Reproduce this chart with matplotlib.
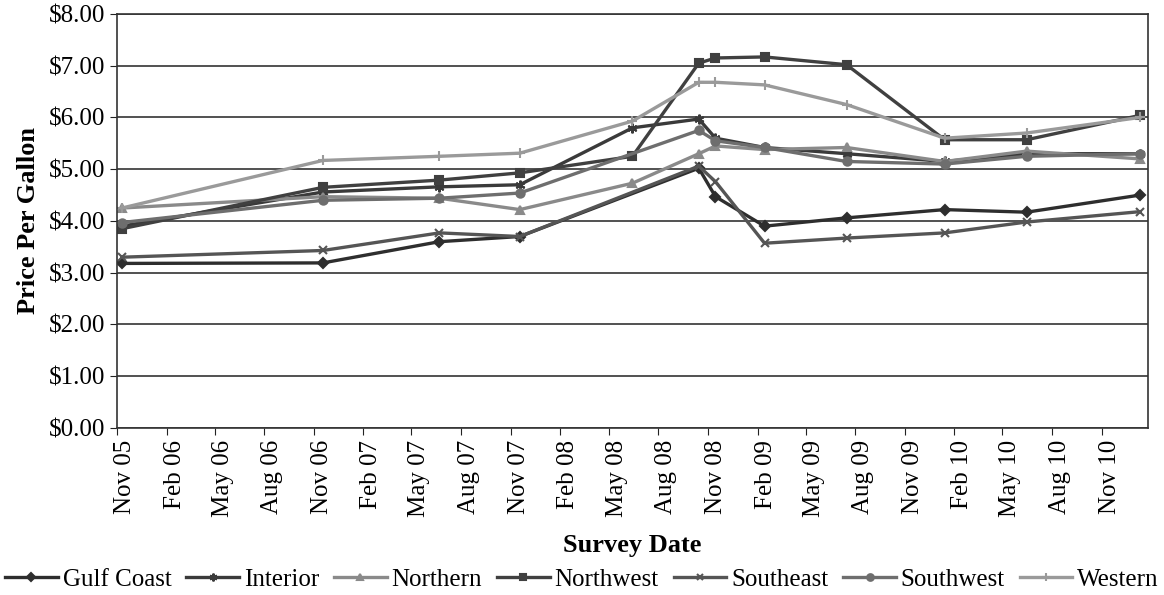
import numpy as np
import pandas as pd
import matplotlib
matplotlib.use('Agg')
import matplotlib.pyplot as plt
import matplotlib.dates as mdates
import matplotlib.transforms as mtrans

plt.rcParams['font.family'] = ['Liberation Serif', 'DejaVu Serif']

# survey dates
dates = pd.to_datetime(['2005-11-10', '2006-11-18', '2007-06-22', '2007-11-18',
                        '2008-06-14', '2008-10-15', '2008-11-15', '2009-02-14',
                        '2009-07-16', '2010-01-14', '2010-06-15', '2011-01-11'])

nan = np.nan
gulf_coast = [3.18, 3.19, 3.60, 3.70, nan, 5.02, 4.47, 3.90, 4.06, 4.22, 4.17, 4.50]
interior   = [3.90, 4.56, 4.66, 4.70, 5.80, 5.97, 5.60, 5.42, 5.30, 5.15, 5.30, 5.30]
northern   = [4.25, 4.47, 4.44, 4.22, 4.73, 5.30, 5.45, 5.38, 5.42, 5.15, 5.35, 5.20]
northwest  = [3.85, 4.65, 4.79, 4.93, 5.25, 7.05, 7.15, 7.17, 7.02, 5.57, 5.57, 6.04]
southeast  = [3.30, 3.43, 3.77, 3.70, nan, 5.06, 4.76, 3.57, 3.67, 3.77, 3.98, 4.18]
southwest  = [3.97, 4.40, 4.44, 4.54, nan, 5.75, 5.55, 5.42, 5.15, 5.10, 5.25, 5.30]
western    = [4.25, 5.17, 5.25, 5.31, 5.93, 6.68, 6.68, 6.63, 6.25, 5.60, 5.70, 6.00]

names = ['Gulf Coast', 'Interior', 'Northern', 'Northwest', 'Southeast', 'Southwest', 'Western']
values = [gulf_coast, interior, northern, northwest, southeast, southwest, western]
colors = ['#2e2e2e', '#3a3a3a', '#8a8a8a', '#404040', '#555555', '#6e6e6e', '#9a9a9a']
markers = ['D', (6, 2, 0), '^', 's', 'x', 'o', '+']
msizes = [5, 7, 6, 6, 6, 6, 7]

fig = plt.figure(figsize=(11.64, 5.95), dpi=100)
ax = fig.add_axes([0.1005, 0.2807, 0.8857, 0.6958])

for name, v, c, m, ms in zip(names, values, colors, markers, msizes):
    v = np.array(v)
    ok = ~np.isnan(v)
    ax.plot(dates[ok], v[ok], color=c, lw=2.4, marker=m, ms=ms,
            markeredgewidth=1.5, label=name)

ax.set_ylim(0, 8)
ax.set_yticks(np.arange(0, 9, 1))
ax.yaxis.set_major_formatter(plt.FuncFormatter(lambda v, p: '$%.2f' % v))
ax.set_xlim(pd.Timestamp('2005-11-01'), pd.Timestamp('2011-01-26'))
ax.xaxis.set_major_locator(mdates.MonthLocator(bymonth=[2, 5, 8, 11]))
ax.xaxis.set_major_formatter(mdates.DateFormatter('%b %y'))
ax.tick_params(labelsize=18, direction='out', length=5, color='#222')
# labels sit a little right of their ticks, as in the scan
shift = mtrans.ScaledTranslation(8 / 100, 0, fig.dpi_scale_trans)
for lab in ax.get_xticklabels():
    lab.set_rotation(90)
    lab.set_transform(lab.get_transform() + shift)
ax.grid(axis='y', color='#333', lw=1.2)
for s in ax.spines.values():
    s.set_color('#333')
    s.set_linewidth(1.2)

ax.set_ylabel('Price Per Gallon', fontsize=19, fontweight='bold', labelpad=6)
ax.set_xlabel('Survey Date', fontsize=19, fontweight='bold', labelpad=12)
fig.legend(loc='center', bbox_to_anchor=(0.5, 0.026), ncol=7, frameon=False,
           fontsize=18, handlelength=2.1, handletextpad=0.2, columnspacing=0.6,
           borderaxespad=0, markerscale=0.8)

fig.savefig('out.png', dpi=100)
